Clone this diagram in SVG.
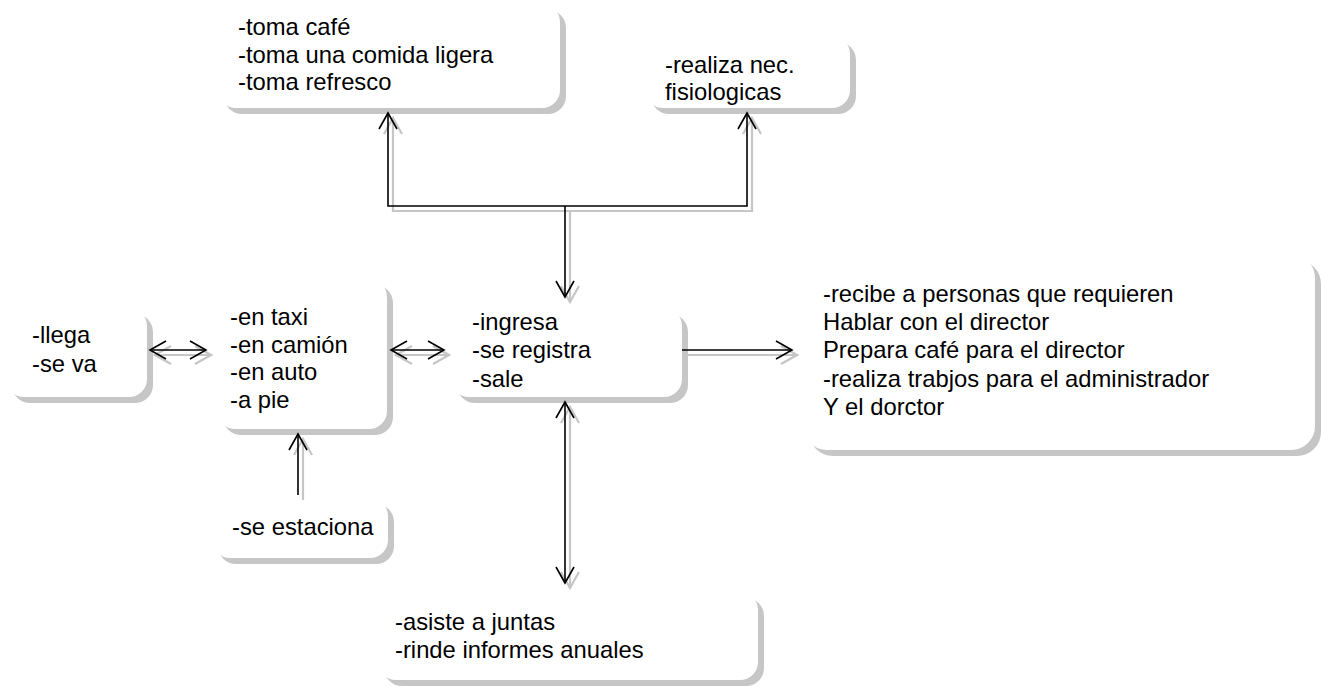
<svg xmlns="http://www.w3.org/2000/svg" width="1321" height="686" viewBox="0 0 1321 686">
<style>
.box{fill:#ffffff}
.sh{fill:#c6c6c6}
text{font-family:"Liberation Sans",Arial,sans-serif;font-size:23.8px;fill:#000}
.ln{fill:none;stroke:#000;stroke-width:1.6}
.lns{fill:none;stroke:#c6c6c6;stroke-width:2.2}
</style>
<defs>
<marker id="ah" viewBox="-18 -11 20 22" refX="0" refY="0" markerWidth="20" markerHeight="22" markerUnits="userSpaceOnUse" orient="auto-start-reverse">
<path d="M-16,-9 L0,0 L-16,9" fill="none" stroke="#000" stroke-width="1.6"/>
</marker>
<marker id="ahs" viewBox="-18 -11 20 22" refX="0" refY="0" markerWidth="20" markerHeight="22" markerUnits="userSpaceOnUse" orient="auto-start-reverse">
<path d="M-16,-9 L0,0 L-16,9" fill="none" stroke="#c6c6c6" stroke-width="2.2"/>
</marker>
</defs>
<rect width="1321" height="686" fill="#fff"/>

<g id="n-comida">
<rect class="sh" x="224" y="10" width="342" height="104" rx="18"/>
<rect class="box" x="218" y="4" width="342" height="104" rx="18"/>
<text x="238" y="35">-toma café</text>
<text x="238" y="63">-toma una comida ligera</text>
<text x="238" y="90">-toma refresco</text>
</g>

<g id="n-fisio">
<rect class="sh" x="651" y="42" width="205" height="72" rx="18"/>
<rect class="box" x="645" y="36" width="205" height="72" rx="18"/>
<text x="665" y="73">-realiza nec.</text>
<text x="665" y="100">fisiologicas</text>
</g>

<g id="n-llega">
<rect class="sh" x="12" y="314" width="141" height="89" rx="18"/>
<rect class="box" x="6" y="308" width="141" height="89" rx="18"/>
<text x="32" y="343">-llega</text>
<text x="32" y="372">-se va</text>
</g>

<g id="n-transporte">
<rect class="sh" x="223" y="285" width="170" height="150" rx="18"/>
<rect class="box" x="217" y="279" width="170" height="150" rx="18"/>
<text x="230" y="325">-en taxi</text>
<text x="230" y="353">-en camión</text>
<text x="230" y="380">-en auto</text>
<text x="230" y="408">-a pie</text>
</g>

<g id="n-ingresa">
<rect class="sh" x="457" y="314" width="231" height="89" rx="18"/>
<rect class="box" x="451" y="308" width="231" height="89" rx="18"/>
<text x="472" y="330">-ingresa</text>
<text x="472" y="358">-se registra</text>
<text x="472" y="387">-sale</text>
</g>

<g id="n-recibe">
<rect class="sh" x="809" y="260" width="512" height="196" rx="24"/>
<rect class="box" x="803" y="254" width="512" height="196" rx="24"/>
<text x="823" y="302">-recibe a personas que requieren</text>
<text x="823" y="330">Hablar con el director</text>
<text x="823" y="358">Prepara café para el director</text>
<text x="823" y="387">-realiza trabjos para el administrador</text>
<text x="823" y="415">Y el dorctor</text>
</g>

<g id="n-estaciona">
<rect class="sh" x="218" y="504" width="176" height="60" rx="18"/>
<rect class="box" x="212" y="498" width="176" height="60" rx="18"/>
<text x="232" y="535">-se estaciona</text>
</g>

<g id="n-juntas">
<rect class="sh" x="384" y="598" width="380" height="88" rx="18"/>
<rect class="box" x="378" y="592" width="380" height="88" rx="18"/>
<text x="395" y="630">-asiste a juntas</text>
<text x="395" y="658">-rinde informes anuales</text>
</g>

<g id="connectors">
<g transform="translate(5,5)">
<path class="lns" d="M565,206 L565,297" marker-end="url(#ahs)"/>
<path class="lns" d="M388,113 L388,206 L747,206 L747,113" marker-start="url(#ahs)" marker-end="url(#ahs)"/>
<path class="lns" d="M150,350 L206,350" marker-start="url(#ahs)" marker-end="url(#ahs)"/>
<path class="lns" d="M391,350 L444,350" marker-start="url(#ahs)" marker-end="url(#ahs)"/>
<path class="lns" d="M682,350 L792,350" marker-end="url(#ahs)"/>
<path class="lns" d="M298,495 L298,434" marker-end="url(#ahs)"/>
<path class="lns" d="M565,402 L565,583" marker-start="url(#ahs)" marker-end="url(#ahs)"/>
</g>
<path class="ln" d="M565,206 L565,297" marker-end="url(#ah)"/>
<path class="ln" d="M388,113 L388,206 L747,206 L747,113" marker-start="url(#ah)" marker-end="url(#ah)"/>
<path class="ln" d="M150,350 L206,350" marker-start="url(#ah)" marker-end="url(#ah)"/>
<path class="ln" d="M391,350 L444,350" marker-start="url(#ah)" marker-end="url(#ah)"/>
<path class="ln" d="M682,350 L792,350" marker-end="url(#ah)"/>
<path class="ln" d="M298,495 L298,434" marker-end="url(#ah)"/>
<path class="ln" d="M565,402 L565,583" marker-start="url(#ah)" marker-end="url(#ah)"/>
</g>
</svg>
